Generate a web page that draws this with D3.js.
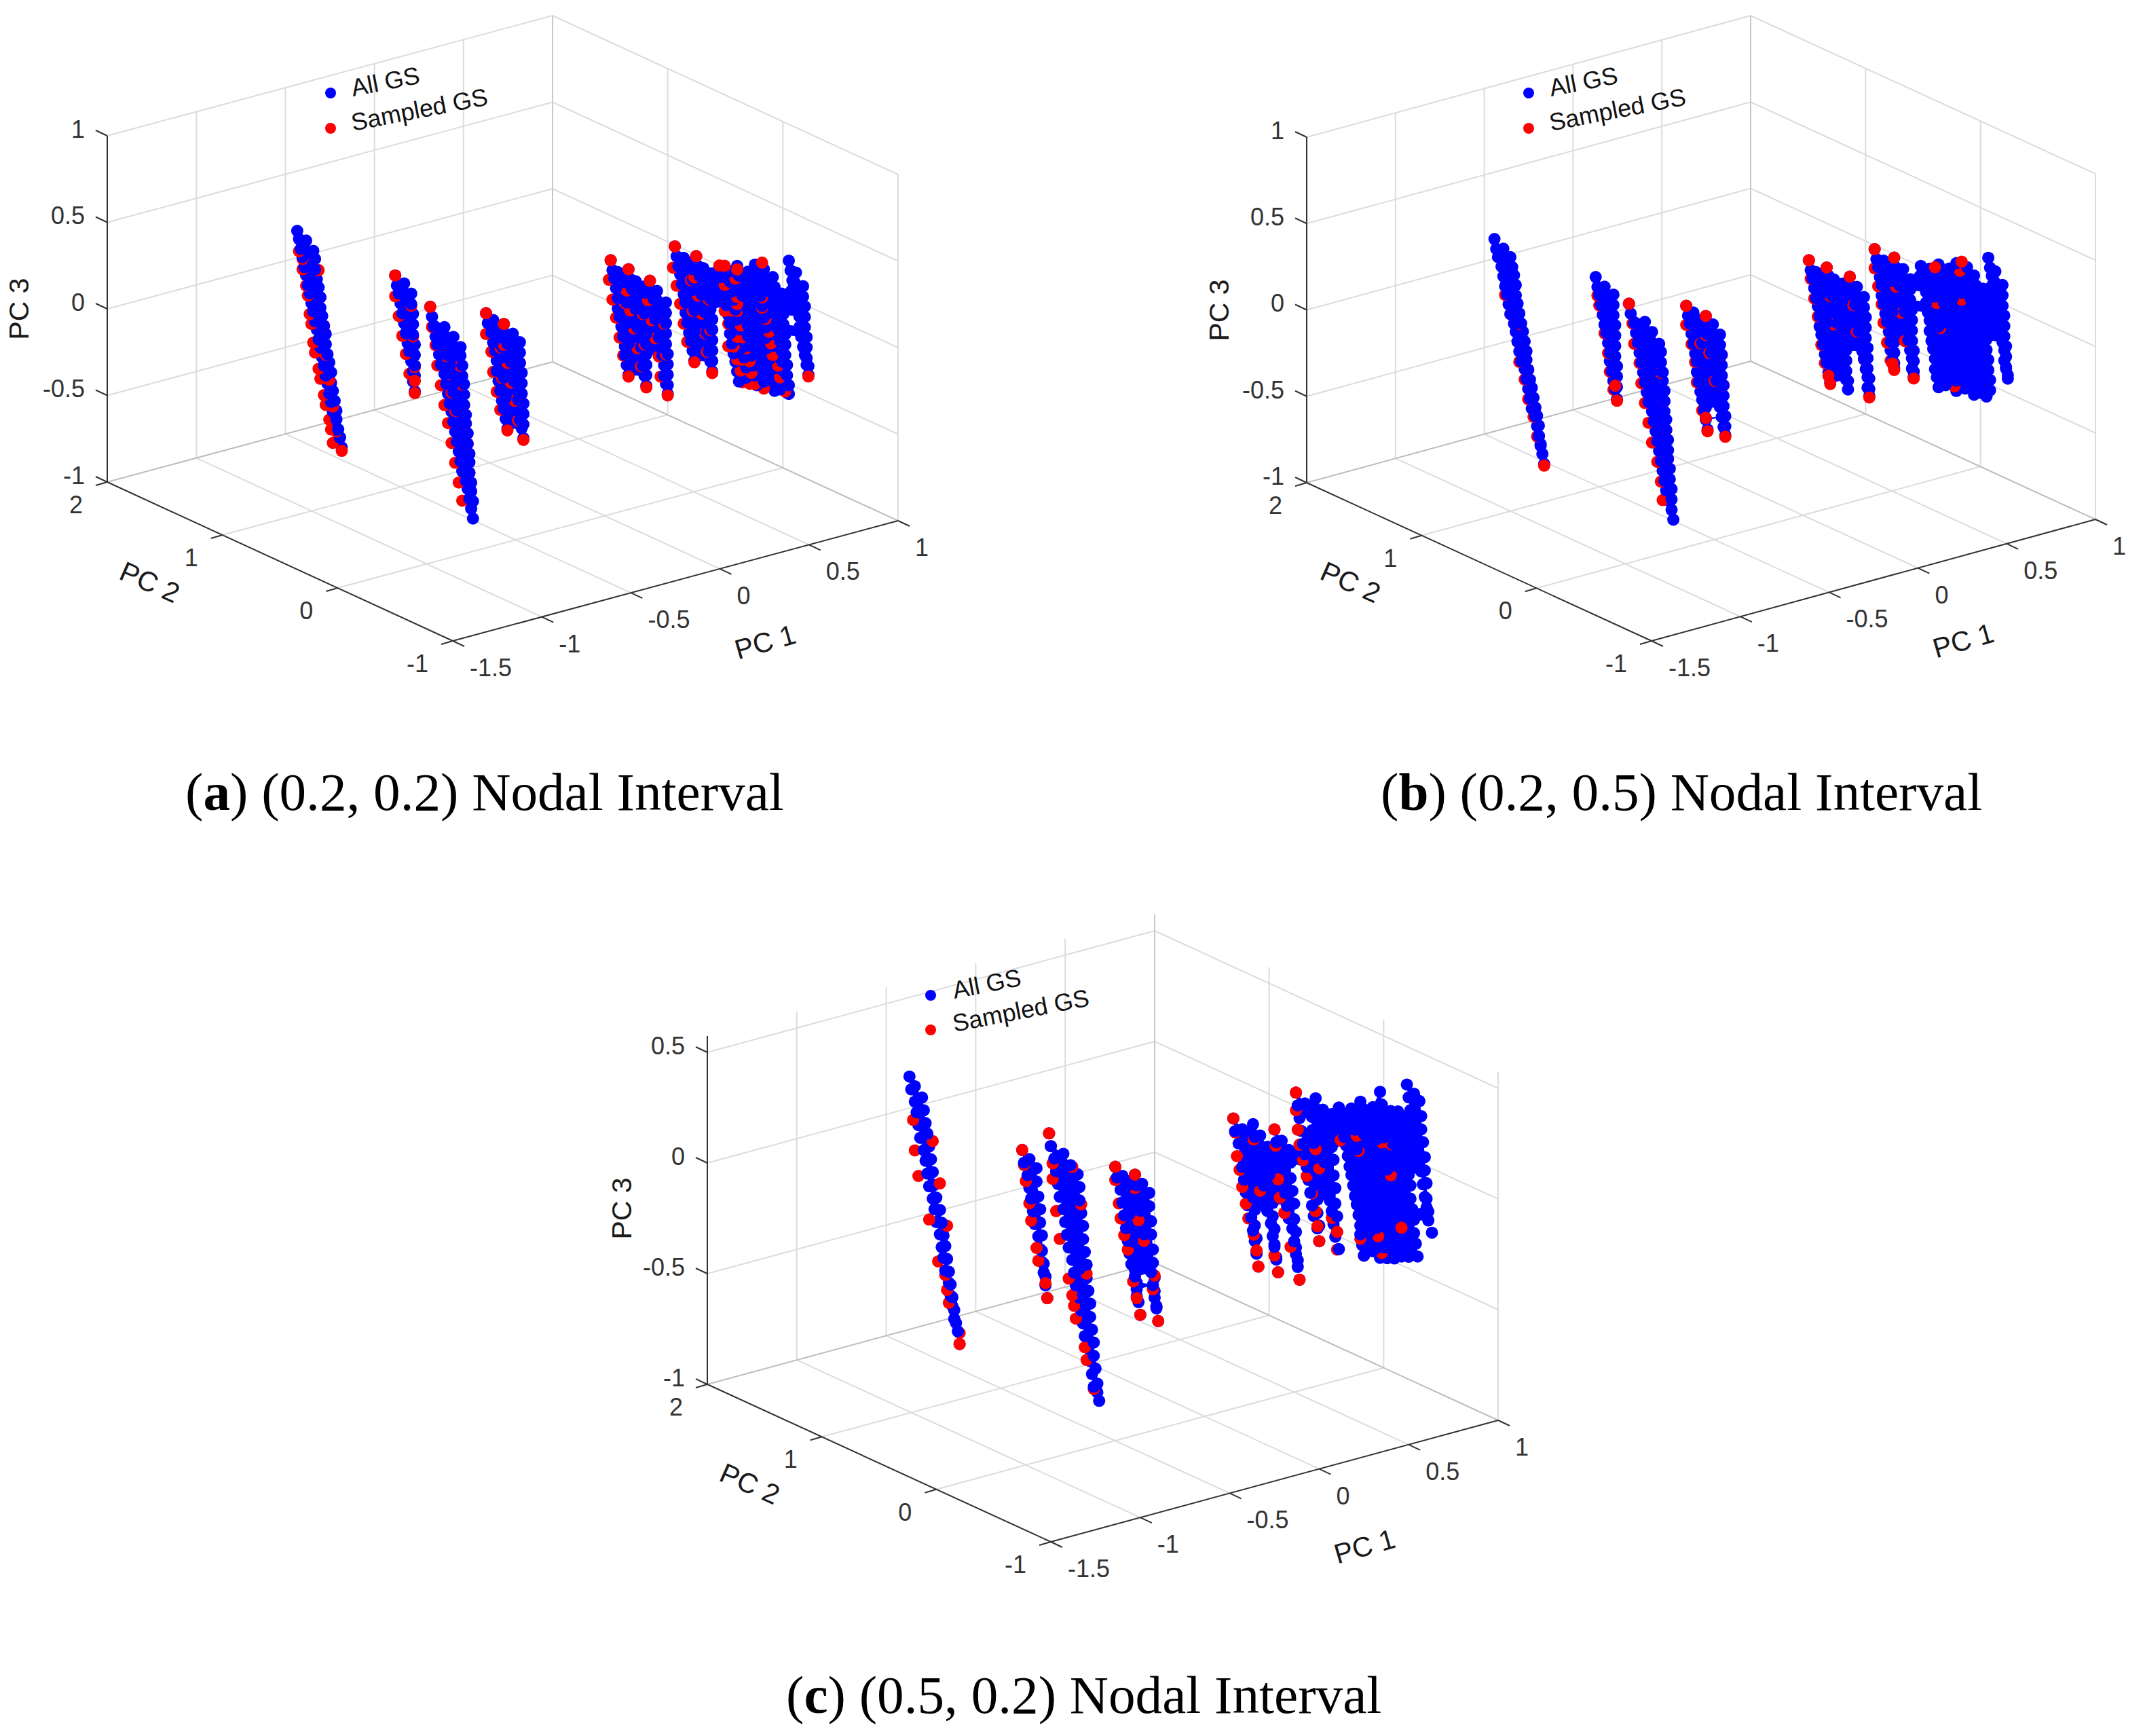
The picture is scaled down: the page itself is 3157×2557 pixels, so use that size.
<!DOCTYPE html>
<html><head><meta charset="utf-8">
<script src="https://cdn.jsdelivr.net/npm/d3@7"></script>
<style>html,body{margin:0;background:#fff}svg{display:block}</style></head>
<body><svg id="c" width="3157" height="2557"></svg>
<script>
const ticksPC1=[-1.5,-1,-.5,0,.5,1];
const ticksPC2=[-1,0,1,2];
const ticksPC3=[-1,-.5,0,.5,1];
const ticksPC3c=[-1,-.5,0,.5];
const legendLabels=["All GS","Sampled GS"];
const captions=[["a",") (0.2, 0.2) Nodal Interval"],["b",") (0.2, 0.5) Nodal Interval"],["c",") (0.5, 0.2) Nodal Interval"]];

// Each group: [PC2, [PC1, PC3, PC1, PC3, ...]]
const allGS_a=[
[1,[-1.08,.64,-1.07,.59,-1.06,.53,-1.05,.48,-1.04,.42,-1.03,.37,-1.02,.31,-1.01,.26,-1,.2,-.99,.15,-.98,.09,-.97,.04,-.96,-.02,-.95,-.07,-.94,-.13,-.93,-.18,-.92,-.24,-.91,-.29,-.9,-.35,-.89,-.4,-.88,-.46,-.87,-.51,-.86,-.57,-.84,-.62,-.83,-.68,
-.99,.5,-.98,.45,-.98,.39,-.97,.33,-.96,.28,-.95,.22,-.95,.16,-.94,.11,-.93,.05,-.92,0,-.92,-.06,-.91,-.12,-.9,-.17,-.89,-.23,-.89,-.29,-.88,-.34,-.87,-.4,-.86,-.46,-.86,-.51,-.85,-.57,-.84,-.62,-1.03,.57,
-.53,.23,-.52,.17,-.51,.12,-.5,.06,-.49,0,-.48,-.06,-.47,-.12,-.46,-.18,-.45,-.23,-.44,-.29,-.43,-.35,-.43,-.41,-.42,-.47,-.44,.1,-.44,.04,-.43,-.02,-.43,-.08,-.43,-.14,-.42,-.2,-.42,-.26,-.42,-.32,-.42,-.38,-.48,.17,
-.02,-.13,-.01,-.19,.01,-.25,.02,-.31,.03,-.36,.04,-.42,.04,-.48,.05,-.54,.06,-.6,.07,-.66,.08,-.71,.09,-.77,.1,-.83,.06,-.23,.06,-.29,.07,-.35,.07,-.41,.08,-.47,.08,-.53,.08,-.59,.09,-.65,.09,-.71,.02,-.18,
.08,-.22,.09,-.28,.1,-.34,.11,-.39,.12,-.45,.13,-.51,.14,-.57,.15,-.62,.16,-.68,.16,-.74,.17,-.8,.18,-.85,.19,-.91,.17,-.35,.17,-.41,.17,-.47,.18,-.53,.18,-.59,.18,-.65,.19,-.71,.19,-.77,.19,-.83,.13,-.29]],
[0,[-.98,.48,-.97,.42,-.96,.36,-.95,.3,-.94,.25,-.93,.19,-.92,.13,-.9,.07,-.89,.01,-.88,-.05,-.87,-.11,-.86,-.16,-.85,-.22,-.84,-.28,-.83,-.34,-.82,-.4,-.81,-.46,-.8,-.52,-.78,-.58,-.77,-.63,-.76,-.69,-.75,-.75,-.74,-.81,
-.9,.34,-.89,.28,-.88,.23,-.88,.17,-.87,.11,-.86,.06,-.85,0,-.85,-.05,-.84,-.11,-.83,-.16,-.83,-.22,-.82,-.27,
-.81,.2,-.81,.15,-.8,.09,-.8,.03,-.79,-.02,-.79,-.08,-.79,-.14,-.78,-.2,-.78,-.25,-.77,-.31,-.77,-.37,-.76,-.43,-.76,-.48,-.76,-.54,-.75,-.6,-.75,-.65,-.74,-.71,-.85,.27]],
[-.5,[-.29,.71,-.28,.65,-.27,.6,-.26,.54,-.25,.48,-.25,.42,-.24,.37,-.23,.31,-.22,.25,-.21,.19,-.21,.14,-.2,.08,-.19,.02,-.21,.56,-.21,.5,-.2,.44,-.2,.38,-.2,.32,-.2,.26,-.19,.2,-.19,.14,-.19,.08,-.25,.63,
-.19,.63,-.18,.57,-.17,.51,-.16,.45,-.15,.39,-.15,.34,-.14,.28,-.13,.22,-.12,.16,-.11,.1,-.11,.05,-.1,-.01,-.09,-.07,-.1,.47,-.1,.41,-.1,.35,-.1,.29,-.09,.23,-.09,.17,-.09,.11,-.09,.05,-.09,-.01,-.15,.55,
-.07,.53,-.06,.47,-.05,.42,-.05,.36,-.04,.3,-.03,.25,-.02,.19,-.01,.13,0,.08,.01,.02,.01,-.04,.02,-.09,.03,-.15,.02,.38,.02,.32,.02,.26,.02,.2,.02,.14,.03,.08,.03,.02,.03,-.04,.03,-.1,-.03,.46,
.07,.69,.08,.63,.09,.57,.1,.52,.11,.46,.12,.4,.13,.35,.13,.29,.14,.23,.15,.17,.16,.12,.17,.06,.18,0,.17,.53,.17,.47,.17,.41,.17,.35,.18,.29,.18,.23,.18,.17,.18,.11,.18,.05,.12,.61,
.19,.6,.2,.54,.21,.48,.21,.43,.22,.37,.23,.31,.24,.26,.24,.2,.25,.14,.26,.08,.26,.03,.27,-.03,.28,-.09,.27,.45,.27,.39,.27,.33,.27,.27,.28,.21,.28,.15,.28,.09,.28,.03,.28,-.03,.23,.52,
.32,.5,.33,.44,.34,.39,.35,.33,.36,.27,.37,.21,.38,.16,.38,.1,.39,.04,.4,-.02,.41,-.07,.42,-.13,.43,-.19,
.38,.46,.38,.4,.39,.34,.4,.29,.41,.23,.42,.17,.43,.11,.44,.05,.45,0,.46,-.06,.47,-.12,.47,-.18,
.42,.48,.43,.42,.44,.36,.45,.3,.46,.24,.47,.18,.48,.12,.48,.06,.49,0,.5,-.06,.51,-.12,.52,-.18,.53,-.24,
.48,.43,.48,.37,.49,.31,.5,.25,.51,.19,.52,.13,.53,.07,.54,.01,.55,-.05,.56,-.11,.57,-.17,.57,-.23,
.52,.46,.53,.39,.54,.33,.55,.27,.56,.21,.57,.14,.58,.08,.58,.02,.59,-.04,.6,-.11,.61,-.17,.62,-.23,.63,-.3,
.57,.42,.58,.35,.59,.29,.6,.22,.6,.16,.61,.09,.62,.03,.63,-.04,.64,-.1,.64,-.17,.65,-.23,.66,-.3,
.62,.36,.63,.3,.63,.23,.64,.17,.65,.11,.65,.05,.66,-.02,.67,-.08,.67,-.14,.68,-.2,.69,-.27,.7,-.33,
.67,.25,.67,.19,.68,.13,.68,.07,.69,.01,.69,-.05,.69,-.11,.7,-.17,.7,-.23,.71,-.29,.71,-.34,
.71,.43,.72,.37,.73,.31,.74,.26,.75,.2,.76,.14,.77,.09,.77,.03,.78,-.03,.79,-.09,.8,-.14,.81,-.2,.82,-.26,.79,.26,.79,.2,.8,.14,.8,.08,.8,.02,.81,-.04,.81,-.1,.81,-.16,.82,-.21,.75,.35]]];
const sampled_a=[
[1,[-1.07,.52,-1.05,.47,-1.05,.41,-1.03,.31,-1.02,.25,-1.01,.14,-1,.08,-.99,-.03,-.98,-.09,-.96,-.19,-.95,-.25,-.93,-.35,-.92,-.41,-.9,-.5,-.89,-.56,-.88,-.64,-.96,.38,-.95,.22,-.93,.05,-.92,-.12,-.9,-.27,-.88,-.43,-.86,-.58,
-.53,.11,-.51,-.01,-.49,-.13,-.47,-.24,-.45,-.36,-.44,.03,-.43,-.15,-.42,-.33,
-.02,-.25,.01,-.36,.02,-.48,.04,-.6,.06,-.71,.06,-.35,.07,-.53,
.08,-.34,.1,-.45,.12,-.57,.14,-.68,.16,-.8,.17,-.47,.18,-.65]],
[0,[-.97,.36,-.95,.25,-.94,.13,-.92,.01,-.9,-.11,-.88,-.22,-.86,-.34,-.84,-.46,-.82,-.58,-.8,-.69,-.89,.17,-.87,.06,-.86,-.05,-.84,-.16,-.81,.09,-.8,-.02,-.79,-.14,-.78,-.25,-.77,-.37,-.76,-.54]],
[-.5,[-.3,.6,-.28,.48,-.26,.37,-.24,.25,-.22,.14,-.21,.44,-.2,.26,-.19,.08,
-.2,.51,-.18,.39,-.16,.28,-.14,.16,-.12,.05,-.11,.35,-.1,.17,
-.08,.42,-.06,.3,-.04,.19,-.02,.08,-.01,-.04,.01,.26,.02,.08,
.06,.57,.08,.46,.1,.35,.12,.23,.14,.12,.16,.47,.17,.29,
.18,.48,.2,.37,.22,.26,.24,.14,.25,.03,.26,.33,.27,.15,
.35,.39,.41,.41,.42,.3,.42,.26,.35,.24,.39,.23,.42,.22,.37,.16,.44,.13,.42,.07,.45,.06,.37,.03,.4,.02,.47,-.01,.42,-.06,.45,-.07,.49,-.09,.44,-.13,.5,-.16,.45,-.2,.49,-.22,.52,-.23,.57,-.27,.56,.26,.56,.2,.58,.13,.6,.05,.61,-.02,.62,-.09,.65,-.16,.66,-.23,.69,-.32]]];
const front_a=[
[1,[-.83,-.7,-.53,.23,-.42,-.48,-.42,-.41,-.02,-.13,.1,-.84,.08,-.22,.19,-.92]],
[0,[-.98,.48]],
[-.5,[-.29,.71,-.19,.01,-.19,.63,-.09,-.08,-.07,.53,.03,-.16,.07,.69,.18,-.01,.19,.6,.28,-.1,.32,.51,.35,.5,.42,.46,.56,.46,.82,-.27]]];

const allGS_b=[
[1,[-1.09,.6,-1.08,.54,-1.07,.49,-1.05,.43,-1.04,.37,-1.03,.31,-1.02,.26,-1.01,.2,-1,.14,-.98,.08,-.97,.03,-.96,-.03,-.95,-.09,-.94,-.15,-.92,-.2,-.91,-.26,-.9,-.32,-.89,-.38,-.88,-.44,-.86,-.49,-.85,-.55,-.84,-.61,-.83,-.67,-.82,-.72,-.81,-.78,
-1,.47,-.99,.41,-.98,.36,-.97,.3,-.97,.24,-.96,.19,-.95,.13,-.94,.07,-.93,.02,-.92,-.04,-.91,-.1,-.91,-.15,-.9,-.21,-.89,-.27,-.88,-.32,-.87,-.38,-.86,-.44,-.85,-.49,-.84,-.55,-.84,-.61,-.83,-.66,-1.04,.53,
-.52,.22,-.51,.16,-.5,.11,-.49,.05,-.48,-.01,-.47,-.07,-.46,-.12,-.45,-.18,-.44,-.24,-.44,-.29,-.43,-.35,-.42,-.41,-.41,-.46,-.4,-.52,-.42,.09,-.42,.03,-.42,-.03,-.41,-.09,-.41,-.15,-.41,-.21,-.41,-.27,-.4,-.33,-.4,-.39,-.4,-.45,-.47,.15,
-.01,-.09,0,-.15,.01,-.2,.02,-.26,.03,-.32,.04,-.38,.05,-.43,.05,-.49,.06,-.55,.07,-.61,.08,-.66,.09,-.72,.1,-.78,.11,-.84,.07,-.2,.07,-.26,.08,-.33,.08,-.39,.08,-.45,.09,-.52,.09,-.58,.09,-.64,.1,-.71,.1,-.77,.03,-.14,
.1,-.18,.11,-.23,.11,-.29,.12,-.34,.13,-.4,.14,-.46,.15,-.51,.16,-.57,.16,-.62,.17,-.68,.18,-.73,.19,-.79,.2,-.85,.21,-.9,.18,-.31,.18,-.37,.19,-.43,.19,-.49,.19,-.55,.2,-.61,.2,-.67,.2,-.73,.21,-.79,.21,-.85,.14,-.24]],
[0,[-.98,.5,-.97,.44,-.95,.38,-.94,.32,-.93,.26,-.92,.2,-.91,.14,-.9,.08,-.89,.02,-.88,-.04,-.87,-.1,-.85,-.16,-.84,-.22,-.83,-.28,-.82,-.34,-.81,-.4,-.8,-.46,-.79,-.52,-.78,-.58,-.77,-.64,-.76,-.7,-.74,-.76,-.73,-.82,
-.89,.37,-.88,.31,-.88,.25,-.87,.19,-.86,.13,-.85,.07,-.85,.01,-.84,-.05,-.83,-.11,-.83,-.17,-.82,-.23,-.81,-.29,
-.81,.22,-.8,.17,-.8,.11,-.79,.05,-.79,0,-.78,-.06,-.78,-.12,-.78,-.18,-.77,-.23,-.77,-.29,-.76,-.35,-.76,-.41,-.76,-.46,-.75,-.52,-.75,-.58,-.74,-.64,-.74,-.7,-.85,.3]],
[-.5,[-.29,.71,-.28,.65,-.27,.6,-.26,.54,-.25,.48,-.24,.43,-.23,.37,-.23,.31,-.22,.26,-.21,.2,-.2,.14,-.19,.09,-.18,.03,-.17,-.03,-.2,.56,-.2,.5,-.19,.44,-.19,.38,-.19,.32,-.18,.26,-.18,.2,-.18,.14,-.17,.08,-.17,.02,-.25,.63,
-.19,.64,-.18,.59,-.17,.53,-.16,.47,-.15,.41,-.14,.36,-.13,.3,-.12,.24,-.11,.18,-.1,.13,-.09,.07,-.09,.01,-.08,-.04,-.07,-.1,-.1,.49,-.1,.43,-.1,.37,-.09,.31,-.09,.25,-.09,.19,-.08,.13,-.08,.07,-.08,.01,-.07,-.05,-.15,.56,
-.06,.55,-.05,.49,-.04,.44,-.03,.38,-.02,.33,-.02,.27,-.01,.22,0,.16,.01,.1,.02,.05,.03,-.01,.04,-.06,.04,-.12,.05,-.17,.02,.41,.02,.35,.03,.29,.03,.23,.03,.17,.04,.11,.04,.05,.04,-.01,.05,-.07,.05,-.13,-.02,.48,
.08,.67,.09,.61,.1,.56,.11,.5,.12,.45,.12,.39,.13,.34,.14,.28,.15,.23,.16,.17,.17,.11,.17,.06,.18,0,.19,-.05,.17,.52,.17,.46,.17,.4,.18,.34,.18,.28,.18,.22,.18,.16,.19,.1,.19,.04,.19,-.02,.13,.59,
.19,.59,.2,.53,.21,.48,.22,.42,.23,.37,.24,.31,.25,.26,.25,.2,.26,.15,.27,.09,.28,.03,.29,-.02,.29,-.08,.3,-.13,.28,.44,.28,.38,.28,.32,.29,.26,.29,.2,.29,.14,.29,.08,.3,.02,.3,-.04,.3,-.1,.24,.51,
.34,.5,.35,.45,.36,.39,.37,.34,.37,.28,.38,.22,.39,.17,.39,.11,.4,.05,.41,0,.42,-.06,.42,-.12,.43,-.17,.44,-.23,
.39,.47,.4,.41,.41,.35,.42,.3,.42,.24,.43,.18,.44,.12,.45,.07,.45,.01,.46,-.05,.47,-.11,.48,-.17,.48,-.23,
.44,.48,.45,.42,.46,.36,.47,.3,.47,.25,.48,.19,.49,.13,.5,.07,.5,.01,.51,-.05,.52,-.11,.53,-.16,.54,-.22,.54,-.28,
.5,.44,.5,.38,.51,.32,.52,.26,.53,.2,.54,.14,.55,.08,.56,.02,.56,-.04,.57,-.1,.58,-.16,.59,-.22,.59,-.28,
.54,.46,.55,.4,.56,.34,.57,.28,.57,.22,.58,.16,.59,.1,.6,.04,.61,-.03,.61,-.09,.62,-.15,.63,-.21,.64,-.27,.64,-.33,
.6,.42,.6,.36,.61,.29,.62,.23,.63,.17,.63,.11,.64,.04,.65,-.02,.66,-.08,.66,-.15,.67,-.21,.68,-.27,.68,-.33,
.64,.36,.65,.3,.65,.24,.66,.18,.66,.12,.67,.06,.68,0,.68,-.06,.69,-.12,.69,-.18,.7,-.24,.7,-.3,.71,-.36,
.69,.27,.69,.21,.7,.15,.7,.09,.71,.03,.71,-.03,.71,-.09,.72,-.15,.72,-.21,.73,-.27,.73,-.33,
.72,.44,.73,.38,.74,.33,.75,.27,.76,.21,.76,.16,.77,.1,.78,.04,.79,-.01,.8,-.07,.81,-.12,.81,-.18,.82,-.23,.83,-.29,.8,.26,.8,.2,.8,.14,.81,.08,.81,.02,.81,-.04,.82,-.1,.82,-.16,.82,-.22,.83,-.27,.76,.35]]];
const sampled_b=[
[1,[-1.03,.26,-1,.14,-.96,-.03,-.95,-.15,-.92,-.26,-.9,-.38,-.87,-.49,-.85,-.61,-.95,.07,-.9,-.21,-.86,-.44,
-.51,.11,-.5,.05,-.47,-.12,-.45,-.24,-.44,-.35,-.42,-.46,
-.01,-.2,.02,-.32,.04,-.43,.05,-.55,.08,-.72,.07,-.33,.08,-.45,
.1,-.29,.12,-.4,.15,-.57,.19,-.43,.2,-.61]],
[0,[-.96,.38,-.95,.26,-.92,.14,-.91,.02,-.89,-.1,-.87,-.22,-.85,-.34,-.82,-.46,-.8,-.58,-.79,-.69,-.8,.05,-.78,-.12,-.77,-.29,-.76,-.46]],
[-.5,[-.28,.6,-.26,.48,-.24,.37,-.22,.2,-.2,.09,
-.17,.47,-.15,.3,-.09,.25,
-.04,.38,-.02,.22,.02,.05,
.08,.56,.1,.45,.12,.34,.13,.23,.15,.11,.17,0,
.2,.42,.23,.26,.25,.09,
.56,.41,.43,.26,.57,.24,.45,.11,.53,-.25]]];
const front_b=[
[1,[-.81,-.79,-.4,-.53,-.41,-.44,-.01,-.09,.11,-.85,.1,-.77,.1,-.18,.21,-.91]],
[0,[-.98,.5]],
[-.5,[-.29,.71,-.17,-.04,-.18,.01,-.19,.64,-.06,.55,.05,-.18,.08,.67,.19,-.06,.18,-.02,.19,.59,.3,-.14,.42,.47,.57,.46]]];

const allGS_c=[
[1,[-1.01,.52,-1,.46,-.98,.4,-.97,.35,-.96,.29,-.95,.23,-.93,.17,-.92,.12,-.91,.06,-.9,0,-.88,-.06,-.87,-.11,-.86,-.17,-.84,-.23,-.83,-.29,-.82,-.34,-.81,-.4,-.79,-.46,-.78,-.52,-.77,-.57,-.76,-.63,-.74,-.69,-.73,-.75,
-.94,.41,-.93,.35,-.92,.29,-.91,.24,-.9,.18,-.89,.12,-.88,.06,-.87,0,-.86,-.06,-.84,-.12,-.83,-.18,-.82,-.24,-.81,-.29,-.8,-.35,-.79,-.41,-.78,-.47,-.77,-.53,-.76,-.59,-.75,-.65,-.98,.47,
-.38,.05,-.37,-.01,-.35,-.07,-.34,-.13,-.33,-.18,-.32,-.24,-.31,-.3,-.29,-.36,-.28,-.42,-.27,-.48,-.26,-.53,-.25,-.59,-.24,-.65,-.3,-.05,-.3,-.11,-.29,-.18,-.28,-.24,-.28,-.3,-.27,-.36,-.27,-.43,-.26,-.49,-.25,-.55,-.34,0,
.14,-.14,.15,-.19,.17,-.25,.18,-.31,.19,-.37,.2,-.43,.21,-.49,.22,-.55,.23,-.6,.25,-.66,.26,-.72,.27,-.78,.28,-.84,.21,-.24,.22,-.3,.22,-.37,.23,-.43,.24,-.5,.24,-.56,.25,-.63,.26,-.69,.26,-.75,.18,-.19,
.25,-.2,.26,-.25,.27,-.31,.28,-.37,.29,-.43,.3,-.48,.31,-.54,.32,-.6,.34,-.66,.35,-.72,.36,-.78,.37,-.83,.38,-.89,.33,-.3,.33,-.36,.34,-.43,.34,-.49,.35,-.56,.35,-.62,.36,-.69,.36,-.75,.37,-.82,.29,-.25]],
[0,[-.87,.47,-.86,.41,-.84,.35,-.83,.29,-.82,.23,-.81,.17,-.79,.11,-.78,.05,-.77,-.01,-.76,-.07,-.74,-.13,-.73,-.19,-.72,-.25,-.7,-.31,-.69,-.37,-.68,-.43,-.67,-.49,-.65,-.55,-.64,-.61,-.63,-.67,-.62,-.73,-.6,-.76,-.59,-.8,
-.79,.36,-.78,.3,-.77,.24,-.76,.18,-.75,.12,-.74,.06,-.73,0,-.72,-.06,-.71,-.12,-.7,-.18,-.69,-.24,-.68,-.3,
-.71,.25,-.7,.19,-.7,.13,-.69,.07,-.68,.01,-.68,-.05,-.67,-.11,-.66,-.17,-.66,-.23,-.65,-.29,-.64,-.35,-.64,-.41,-.63,-.47,-.62,-.53,-.62,-.59,-.61,-.65,-.6,-.72,-.75,.3]],
[-.5,[-.16,.5,-.15,.44,-.13,.38,-.12,.32,-.11,.27,-.1,.21,-.09,.15,-.08,.09,-.06,.03,-.05,-.03,-.04,-.08,-.03,-.14,-.02,-.2,-.07,.38,-.07,.32,-.06,.25,-.05,.19,-.05,.12,-.04,.06,-.04,-.01,-.03,-.07,-.03,-.13,-.11,.44,
-.05,.45,-.04,.39,-.02,.33,-.01,.27,0,.22,.01,.16,.02,.1,.03,.04,.05,-.02,.06,-.08,.07,-.13,.08,-.19,.09,-.25,.03,.33,.04,.27,.04,.2,.05,.14,.06,.07,.06,.01,.07,-.05,.07,-.12,.08,-.18,-.01,.39,
.07,.4,.08,.34,.1,.28,.11,.22,.12,.16,.13,.1,.14,.04,.15,-.02,.17,-.07,.18,-.13,.19,-.19,.2,-.25,.21,-.31,.15,.29,.16,.23,.16,.16,.17,.1,.18,.04,.18,-.03,.19,-.09,.19,-.16,.2,-.22,.11,.34,
.19,.54,.2,.48,.21,.42,.22,.36,.23,.3,.24,.25,.25,.19,.26,.13,.27,.07,.28,.01,.29,-.04,.31,-.1,.32,-.16,.28,.41,.28,.35,.29,.29,.29,.22,.3,.16,.3,.1,.31,.03,.31,-.03,.32,-.09,.24,.48,
.3,.49,.31,.43,.32,.37,.33,.31,.34,.25,.35,.19,.36,.13,.37,.07,.38,.01,.39,-.04,.4,-.1,.41,-.16,.43,-.22,.38,.38,.38,.32,.39,.25,.4,.19,.4,.12,.41,.06,.41,-.01,.42,-.07,.42,-.14,.34,.43,
.43,.42,.44,.38,.45,.33,.46,.28,.47,.24,.48,.19,.49,.14,.5,.1,.51,.05,.52,0,.53,-.04,.54,-.09,.55,-.14,.55,-.18,.56,-.23,.57,-.28,
.5,.4,.51,.35,.52,.3,.53,.25,.53,.21,.54,.16,.55,.11,.56,.06,.57,.02,.58,-.03,.59,-.08,.59,-.13,.6,-.18,.61,-.22,.62,-.27,
.55,.42,.56,.37,.57,.32,.57,.27,.58,.23,.59,.18,.6,.13,.6,.08,.61,.03,.62,-.02,.62,-.07,.63,-.12,.64,-.17,.64,-.22,.65,-.26,.66,-.31,
.62,.38,.63,.33,.63,.28,.64,.23,.64,.18,.65,.13,.66,.08,.66,.03,.67,-.02,.67,-.07,.68,-.12,.68,-.17,.69,-.22,.69,-.27,.7,-.32,
.66,.44,.67,.38,.67,.33,.68,.28,.68,.23,.69,.18,.69,.13,.7,.08,.7,.03,.71,-.02,.71,-.07,.72,-.13,.72,-.18,.73,-.23,.73,-.28,.74,-.33,
.72,.34,.72,.29,.73,.24,.73,.19,.74,.14,.74,.09,.75,.04,.75,-.01,.76,-.06,.76,-.11,.77,-.16,.77,-.21,.78,-.26,.78,-.33,
.76,.33,.76,.28,.77,.23,.77,.18,.78,.13,.78,.08,.79,.03,.79,-.02,.8,-.07,.8,-.12,.81,-.17,.81,-.22,.82,-.28,.82,-.34,
.79,.29,.8,.24,.8,.19,.81,.13,.82,.08,.82,.03,.83,-.02,.83,-.08,.84,-.13,.85,-.18,.85,-.24,.86,-.29,.87,-.35,
.81,.44,.82,.38,.83,.32,.85,.26,.86,.21,.87,.15,.88,.09,.89,.03,.9,-.03,.91,-.09,.92,-.14,.93,-.2,.95,-.26,.88,.35,.89,.28,.89,.22,.9,.16,.91,.09,.91,.03,.92,-.03,.92,-.1,.93,-.16,.85,.39]]];
const sampled_c=[
[1,[-.99,.32,-.98,.18,-.96,.06,-.88,.2,-.84,0,-.9,-.15,-.8,-.2,-.85,-.35,-.81,-.42,-.8,-.49,-.79,-.55,-.73,-.7,
-.37,-.02,-.36,-.095,-.34,-.2,-.33,-.28,-.3,-.41,-.29,-.47,
.14,-.2,.16,-.31,.17,-.38,.19,-.46,.21,-.53,.24,-.68,
.25,-.26,.27,-.41,.3,-.51,.36,-.68,.35,-.74,.37,-.82]],
[0,[-.86,.41,-.85,.33,-.85,.26,-.83,.11,-.81,-.02,-.76,-.21,-.74,-.29,-.73,-.34,-.72,-.4,-.67,-.54,-.66,-.6,-.62,-.74,-.74,.29,-.69,.11,-.66,-.21]],
[-.5,[-.15,.435,-.14,.325,-.125,.26,-.11,.18,-.09,.1,-.076,.03,-.046,-.05,
-.046,.38,-.01,.14,.07,-.17,
.076,.325,.09,.17,.1,.085,.125,.01,.16,-.15,
.19,.46,.2,.37,.21,.3,.23,.225,.25,.15,.28,.065,.3,-.02,
.3,.26,.32,.17,.39,-.07,.42,-.22,
.44,.27,.53,.27,.54,.2,.67,.21,.72,.19,.72,.05,.65,-.21,.55,-.2,.67,-.29,.57,-.28]]];
const front_c=[
[1,[-.73,-.75,-.38,.05,-.25,-.58,-.24,-.65,.14,-.14,.26,-.76,.28,-.84,.25,-.2,.38,-.89]],
[0,[-.87,.47]],
[-.5,[-.16,.5,-.03,-.125,-.02,-.2,.09,-.25,.07,.4,.21,-.31,.19,.54,.31,-.09,.32,-.16,.42,-.14,.78,-.2]]];

const svg=d3.select("#c");
const SANS="'Liberation Sans',Arial,sans-serif";
const panels=[
 {A:[158,710],B:[667,944],C:[1323,767],zPx:510,zDom:[-1,1],zTop:1,zt:ticksPC3,all:allGS_a,smp:sampled_a,frt:front_a,reach:26,
  pc3:[27,455],pc2:[221,857],pc1:[1127,945],leg:[487,137,189,520,142,193],cap:[273,1193],capI:0},
 {A:[1925,711],B:[2433,944],C:[3087,765],zPx:509,zDom:[-1,1],zTop:1,zt:ticksPC3,all:allGS_b,smp:sampled_b,frt:front_b,reach:26,
  pc3:[1795,457],pc2:[1990,857],pc1:[2892,943],leg:[2252,137,189,2285,142,193],cap:[2034,1193],capI:1},
 {A:[1042,2039],B:[1548,2271],C:[2207,2092],zPx:489,zDom:[-1,.5],zTop:.574,zt:ticksPC3c,all:allGS_c,smp:sampled_c,frt:front_c,reach:25,
  pc3:[915,1780],pc2:[1105,2185],pc1:[2010,2277],leg:[1371,1466,1517,1406,1471,1520],cap:[1158,2523],capI:2}
];
const GRID="#dcdcdc",BOX="#bdbdbd",AXIS="#333";
const flat=g=>g.flatMap(([p2,v])=>d3.range(0,v.length,2).map(i=>[v[i],p2,v[i+1]]));

panels.forEach(P=>{
 const g=svg.append("g");
 const x1=d3.scaleLinear([-1.5,1],[0,P.C[0]-P.B[0]]), y1=d3.scaleLinear([-1.5,1],[0,P.C[1]-P.B[1]]);
 const x2=d3.scaleLinear([-1,2],[0,P.A[0]-P.B[0]]), y2=d3.scaleLinear([-1,2],[0,P.A[1]-P.B[1]]);
 const yz=d3.scaleLinear(P.zDom,[0,-P.zPx]);
 const pr=(a,b,c)=>[P.B[0]+x1(a)+x2(b),P.B[1]+y1(a)+y2(b)+yz(c)];
 const line=(p,q,col,w)=>g.append("line").attr("x1",p[0]).attr("y1",p[1]).attr("x2",q[0]).attr("y2",q[1]).attr("stroke",col).attr("stroke-width",w);
 const z0=P.zDom[0],T=P.zTop;
 // grid
 ticksPC1.forEach(v=>{ if(v>-1.5&&v<1){line(pr(v,-1,z0),pr(v,2,z0),GRID,2);line(pr(v,2,z0),pr(v,2,T),GRID,2);} });
 ticksPC2.forEach(v=>{ if(v>-1&&v<2){line(pr(-1.5,v,z0),pr(1,v,z0),GRID,2);line(pr(1,v,z0),pr(1,v,T),GRID,2);} });
 P.zt.forEach(v=>{ if(v>z0){line(pr(-1.5,2,v),pr(1,2,v),GRID,2);line(pr(1,2,v),pr(1,-1,v),GRID,2);} });
 line(pr(-1.5,2,z0),pr(1,2,z0),BOX,2);line(pr(1,2,z0),pr(1,-1,z0),BOX,2);
 line(pr(1,2,z0),pr(1,2,T),"#c8c8c8",2);line(pr(1,-1,z0),pr(1,-1,T),GRID,2);
 // axes
 line(pr(-1.5,2,z0),pr(-1.5,2,T),AXIS,2);
 line(pr(-1.5,2,z0),pr(-1.5,-1,z0),AXIS,2);
 line(pr(-1.5,-1,z0),pr(1,-1,z0),AXIS,2);
 const lab=(x,y,t,anc)=>g.append("text").attr("x",x).attr("y",y).attr("dy",".36em").attr("text-anchor",anc)
   .attr("font-family",SANS).attr("font-size",36).attr("fill","#333").text(t);
 P.zt.forEach(v=>{const p=pr(-1.5,2,v);line(p,[p[0]-17,p[1]-8],AXIS,2);lab(p[0]-33,p[1]-10,String(v),"end");});
 ticksPC2.forEach(v=>{const p=pr(-1.5,v,z0);line(p,[p[0]-17,p[1]+5],AXIS,2);lab(p[0]-36,p[1]+33,String(v),"end");});
 ticksPC1.forEach(v=>{const p=pr(v,-1,z0);line(p,[p[0]+17,p[1]+8],AXIS,2);lab(p[0]+25,p[1]+39,String(v),"start");});
 const title=(c,rot,t)=>g.append("text").attr("transform",`translate(${c[0]},${c[1]}) rotate(${rot})`)
   .attr("text-anchor","middle").attr("dy",".36em").attr("font-family",SANS).attr("font-size",41).attr("fill","#1a1a1a").text(t);
 title(P.pc3,-90,"PC 3");title(P.pc2,24,"PC 2");title(P.pc1,-16,"PC 1");
 // solid body between neighbouring All GS points (the reference's points are denser than can be read)
 const toPt=(t,cls)=>{const [x,y]=pr(t[0],t[1],t[2]);return {x,y,cls};};
 const allPts=flat(P.all).map(t=>toPt(t,"#0000ff"));
 const del=d3.Delaunay.from(allPts,d=>d.x,d=>d.y);
 const tri=[];
 for(let i=0;i<del.triangles.length;i+=3){
  const q=[0,1,2].map(k=>allPts[del.triangles[i+k]]);
  const ok=[0,1,2].every(k=>Math.hypot(q[k].x-q[(k+1)%3].x,q[k].y-q[(k+1)%3].y)<P.reach);
  if(ok) tri.push(q);
 }
 g.append("g").selectAll("path").data(tri).join("path")
  .attr("d",d=>d3.line().x(p=>p.x).y(p=>p.y)(d)+"Z").attr("fill","#0000ff").attr("stroke","#0000ff").attr("stroke-width",1);
 // points: painted bottom of screen first, sampled under all at ties
 const merged=[...flat(P.smp).map(t=>toPt(t,"#ff0000")),...allPts];
 const order=d3.range(merged.length).sort((i,j)=>d3.descending(merged[i].y,merged[j].y)||i-j).map(i=>merged[i]);
 const frontPts=flat(P.frt).map(t=>toPt(t,"#ff0000"));
 g.append("g").selectAll("circle").data([...order,...frontPts]).join("circle")
  .attr("cx",d=>d.x).attr("cy",d=>d.y).attr("r",9).attr("fill",d=>d.cls);
 // legend
 const L=P.leg;
 [["#0000ff",L[1],L[4]],["#ff0000",L[2],L[5]]].forEach((e,i)=>{
  g.append("circle").attr("cx",L[0]).attr("cy",e[1]).attr("r",8).attr("fill",e[0]);
  g.append("text").attr("transform",`translate(${L[3]},${e[2]}) rotate(-11)`).attr("font-family",SANS)
   .attr("font-size",36).attr("fill","#111").text(legendLabels[i]);
 });
 // caption
 const c=captions[P.capI];
 const t=g.append("text").attr("x",P.cap[0]).attr("y",P.cap[1]).attr("font-family","'Liberation Serif',serif").attr("font-size",79.2).attr("fill","#000");
 t.append("tspan").text("(");
 t.append("tspan").attr("font-weight","bold").text(c[0]);
 t.append("tspan").text(c[1]);
});
</script></body></html>
